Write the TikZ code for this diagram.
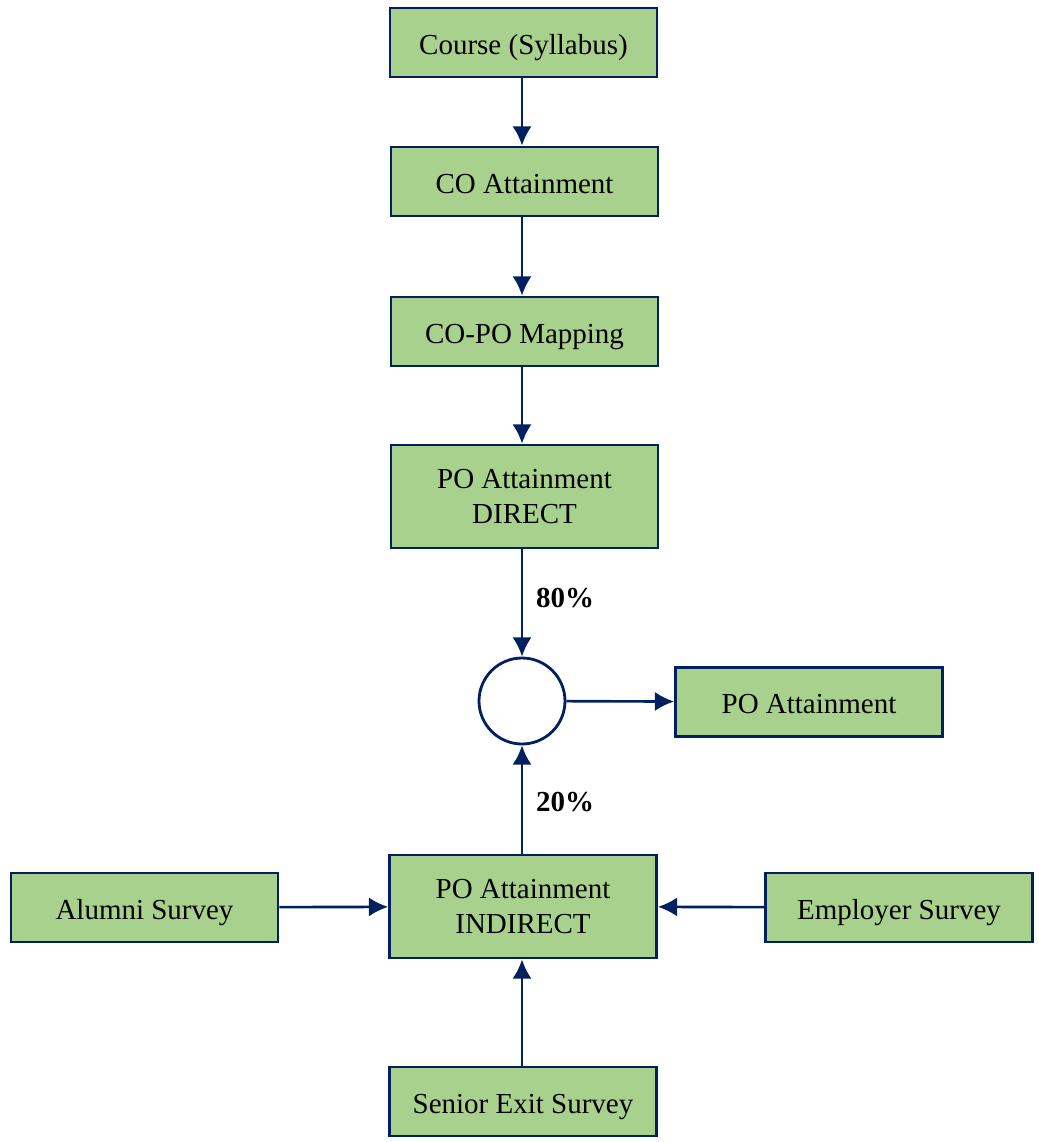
\documentclass[tikz,border=0pt]{standalone}
\usepackage{fontspec}
\setmainfont{Liberation Serif}
\usepackage{tikz}
\usetikzlibrary{arrows.meta}
\definecolor{boxgreen}{HTML}{A9D18E}
\definecolor{navy}{HTML}{002060}

\begin{document}
\begin{tikzpicture}[x=0.02cm, y=-0.02cm,
        box/.style = {draw=navy, line width=1.6pt, fill=boxgreen, inner sep=0pt,
            minimum width=5.34cm, minimum height=1.38cm, align=center,
            font=\fontsize{16.5}{20}\selectfont},
        main/.style = {box, text height=13.6pt, text depth=0pt},
        tall/.style = {box, minimum height=2.06cm},
        sumnode/.style = {draw=navy, line width=1.6pt, fill=white, circle, minimum size=1.72cm, inner sep=0pt},
        pct/.style = {text=black, font=\fontsize{16.5}{20}\selectfont\bfseries},
        link/.style = {-{Latex[length=11pt,width=11pt]}, navy, line width=1.5pt}]
            \useasboundingbox (0,0) rectangle (1038,1142);

            \node[main] (course) at (523.5,42.5) {Course (Syllabus)};
            \node[main] (co) at (524.5,181.5) {CO Attainment};
            \node[main] (copo) at (524.5,331.5) {CO-PO Mapping};
            \node[tall] (direct) at (524.5,496.5) {PO Attainment\\DIRECT};
            \node[sumnode] (sum) at (522,701) {};
            \node[main] (po) at (809,702) {PO Attainment};
            \node[tall] (indirect) at (523,906.5) {PO Attainment\\INDIRECT};
            \node[main] (alumni) at (144.5,907.5) {Alumni Survey};
            \node[main] (employer) at (899,907.5) {Employer Survey};
            \node[main] (senior) at (523,1101.5) {Senior Exit Survey};

            \path[link] (course.south -| sum) edge (co.north -| sum);
            \path[link] (co.south -| sum) edge (copo.north -| sum);
            \path[link] (copo.south -| sum) edge (direct.north -| sum);
            \path[link] (direct.south -| sum) edge node[pct, right=4pt, pos=0.45] {80\%} (sum);
            \path[link] (indirect.north -| sum) edge node[pct, right=4pt, pos=0.48] {20\%} (sum);
            \path[link] (sum) edge (po);
            \path[link] (alumni) edge (indirect);
            \path[link] (employer) edge (indirect);
            \path[link] (senior.north -| sum) edge (indirect.south -| sum);
        \end{tikzpicture}
\end{document}
